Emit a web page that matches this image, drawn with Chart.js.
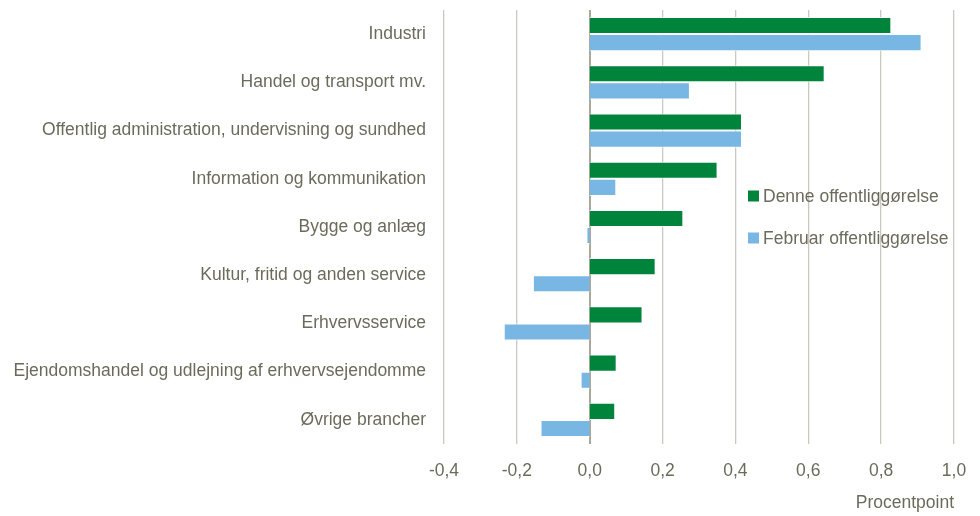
<!DOCTYPE html>
<html>
<head>
<meta charset="utf-8">
<script src="https://cdn.jsdelivr.net/npm/chart.js@4/dist/chart.umd.min.js"></script>
<style>
  html, body { margin: 0; padding: 0; background: #fff; }
  #wrap { width: 980px; height: 516px; position: relative; }
</style>
</head>
<body>
<div id="wrap"><canvas id="chart"></canvas></div>
<script>
'use strict';
// Brancher (kategorier)
const categories = [
    'Industri',
    'Handel og transport mv.',
    'Offentlig administration, undervisning og sundhed',
    'Information og kommunikation',
    'Bygge og anlæg',
    'Kultur, fritid og anden service',
    'Erhvervsservice',
    'Ejendomshandel og udlejning af erhvervsejendomme',
    'Øvrige brancher'
];

// Bidrag i procentpoint
const denne = [0.828, 0.645, 0.418, 0.351, 0.257, 0.181, 0.145, 0.074, 0.070];
const februar = [0.911, 0.275, 0.418, 0.073, -0.009, -0.156, -0.236, -0.025, -0.135];

const xTickLabels = ['-0,4', '-0,2', '0,0', '0,2', '0,4', '0,6', '0,8', '1,0'];

const textColor = '#6b6b5c';
const fontFamily = '"Liberation Sans", Arial, sans-serif';

// Legende inde i plotområdet
const innerLegend = {
    id: 'innerLegend',
    afterDatasetsDraw(chart) {
        const ctx = chart.ctx;
        const x = 748;
        const rows = [196, 238];
        ctx.save();
        ctx.font = '17.5px ' + fontFamily;
        ctx.textBaseline = 'middle';
        ctx.textAlign = 'left';
        chart.data.datasets.forEach((ds, i) => {
            ctx.fillStyle = ds.backgroundColor;
            ctx.fillRect(x, rows[i] - 5.5, 11, 11);
            ctx.fillStyle = textColor;
            ctx.fillText(ds.label, x + 15, rows[i] + 1);
        });
        ctx.restore();
    }
};

const ctx = document.getElementById('chart').getContext('2d');
new Chart(ctx, {
    type: 'bar',
    data: {
        labels: categories,
        datasets: [{
            label: 'Denne offentliggørelse',
            data: denne,
            backgroundColor: '#00843c',
            borderColor: 'rgba(255,255,255,0.85)',
            borderWidth: 1,
            categoryPercentage: 0.71,
            barPercentage: 1.0
        }, {
            label: 'Februar offentliggørelse',
            data: februar,
            backgroundColor: '#78b6e4',
            borderColor: 'rgba(255,255,255,0.85)',
            borderWidth: 1,
            categoryPercentage: 0.71,
            barPercentage: 1.0
        }]
    },
    options: {
        indexAxis: 'y',
        responsive: true,
        maintainAspectRatio: false,
        animation: false,
        layout: { padding: { top: 10, right: 26, left: 0, bottom: 0 } },
        plugins: {
            legend: { display: false },
            tooltip: { enabled: false }
        },
        scales: {
            x: {
                min: -0.4,
                max: 1.0,
                ticks: {
                    stepSize: 0.2,
                    color: textColor,
                    font: { family: fontFamily, size: 17.5 },
                    padding: 17,
                    maxRotation: 0,
                    callback: (value, index) => xTickLabels[index]
                },
                grid: {
                    drawTicks: false,
                    color: c => Math.abs(c.tick.value) < 1e-9 ? '#a9a99b' : '#c9c9bf',
                    lineWidth: c => Math.abs(c.tick.value) < 1e-9 ? 2 : 1.3
                },
                border: { display: false },
                title: {
                    display: true,
                    text: 'Procentpoint',
                    align: 'end',
                    color: textColor,
                    font: { family: fontFamily, size: 17.5 },
                    padding: { top: 0, bottom: 2 }
                },
                afterFit(scale) {
                    scale.height = 72;
                    scale.paddingLeft = 0;
                    scale.paddingRight = 0;
                }
            },
            y: {
                ticks: {
                    color: textColor,
                    font: { family: fontFamily, size: 17.5 },
                    padding: 18,
                    autoSkip: false
                },
                grid: { display: false, drawTicks: false },
                border: { display: false },
                afterFit(scale) {
                    scale.width = 444;
                    scale.paddingTop = 0;
                    scale.paddingBottom = 0;
                }
            }
        }
    },
    plugins: [innerLegend]
});
</script>
</body>
</html>
